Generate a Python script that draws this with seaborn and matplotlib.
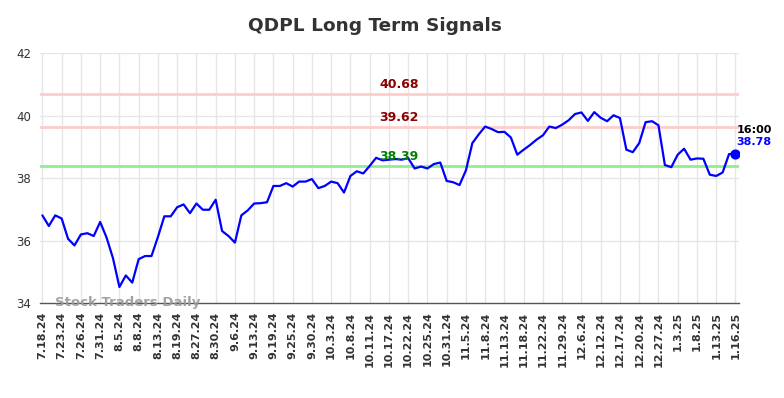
import numpy as np
import pandas as pd
import matplotlib
matplotlib.use("Agg")
import matplotlib.pyplot as plt
import seaborn as sns

# tick labels (one every 3 trading days)
tick_labels = ['7.18.24', '7.23.24', '7.26.24', '7.31.24', '8.5.24', '8.8.24', '8.13.24',
               '8.19.24', '8.27.24', '8.30.24', '9.6.24', '9.13.24', '9.19.24', '9.25.24',
               '9.30.24', '10.3.24', '10.8.24', '10.11.24', '10.17.24', '10.22.24', '10.25.24',
               '10.31.24', '11.5.24', '11.8.24', '11.13.24', '11.18.24', '11.22.24', '11.29.24',
               '12.6.24', '12.12.24', '12.17.24', '12.20.24', '12.27.24', '1.3.25', '1.8.25',
               '1.13.25', '1.16.25']

# closing prices
prices = [36.81, 36.47, 36.81, 36.71, 36.06, 35.85, 36.20, 36.24, 36.15, 36.60,
          36.10, 35.44, 34.52, 34.89, 34.66, 35.41, 35.51, 35.51, 36.12, 36.78,
          36.78, 37.07, 37.16, 36.88, 37.19, 36.99, 36.99, 37.31, 36.31, 36.15,
          35.94, 36.81, 36.97, 37.19, 37.20, 37.23, 37.75, 37.75, 37.84, 37.73,
          37.89, 37.89, 37.97, 37.68, 37.75, 37.89, 37.84, 37.54, 38.07, 38.22,
          38.15, 38.39, 38.65, 38.57, 38.59, 38.61, 38.59, 38.64, 38.31, 38.37,
          38.31, 38.45, 38.50, 37.91, 37.87, 37.78, 38.25, 39.12, 39.40, 39.65,
          39.57, 39.47, 39.48, 39.30, 38.75, 38.91, 39.06, 39.23, 39.37, 39.65,
          39.60, 39.71, 39.85, 40.05, 40.10, 39.83, 40.11, 39.93, 39.82, 40.01,
          39.92, 38.91, 38.83, 39.12, 39.79, 39.82, 39.69, 38.42, 38.35, 38.75,
          38.94, 38.59, 38.63, 38.62, 38.11, 38.07, 38.18, 38.77, 38.78]

# signal levels
resistance_levels = [40.68, 39.62]
support_level = 38.39
last_time = '16:00'

df = pd.DataFrame({'idx': np.arange(len(prices)), 'price': prices})

sns.set_style('white')
fig = plt.figure(figsize=(7.84, 3.98), dpi=100)
ax = fig.add_axes([0.0504, 0.238, 0.8926, 0.6288])

# grid
for i in range(0, len(prices), 3):
    ax.axvline(i, color='#e6e6e6', lw=1, zorder=0)
for yv in [36, 38, 40, 42]:
    ax.axhline(yv, color='#e6e6e6', lw=1, zorder=0)

# signal lines
for lv in resistance_levels:
    ax.axhline(lv, color='#ffcccc', lw=2, zorder=1)
ax.axhline(support_level, color='#90ee90', lw=2, zorder=1)

sns.lineplot(data=df, x='idx', y='price', color='#0000ff', lw=1.6, ax=ax, zorder=3)
ax.scatter([df['idx'].iloc[-1]], [prices[-1]], s=40, color='#0000ff', zorder=4)

mid = 55.6
for lv in resistance_levels:
    ax.text(mid, lv + 0.1, f'{lv:.2f}', color='#8b0000', fontsize=9, fontweight='bold',
            ha='center', va='bottom')
ax.text(mid, support_level + 0.08, f'{support_level:.2f}', color='#008000', fontsize=9,
        fontweight='bold', ha='center', va='bottom')

ax.text(len(prices) - 0.8, prices[-1] + 0.75, last_time, color='black', fontsize=8,
        fontweight='bold', ha='left', va='center')
ax.text(len(prices) - 0.8, prices[-1] + 0.36, f'{prices[-1]:.2f}', color='#0000ff', fontsize=8,
        fontweight='bold', ha='left', va='center')

ax.text(2, 34.03, 'Stock Traders Daily', color='#999999', fontsize=9.5, fontweight='bold',
        ha='left', va='center', alpha=0.9, zorder=5)

ax.set_xlim(-0.45, 108.6)
ax.set_ylim(34, 42)
ax.set_xticks(range(0, len(prices), 3))
ax.set_xticklabels(tick_labels, rotation=90, fontsize=8, fontweight='bold', color='#333333')
ax.set_yticks([34, 36, 38, 40, 42])
ax.set_yticklabels(['34', '36', '38', '40', '42'], fontsize=8.5, color='#333333')
ax.tick_params(axis='both', length=0, pad=6)
ax.set_xlabel('')
ax.set_ylabel('')

for s in ['top', 'right', 'left']:
    ax.spines[s].set_visible(False)
ax.spines['bottom'].set_color('#555555')
ax.spines['bottom'].set_linewidth(1)

fig.text(0.478, 0.935, 'QDPL Long Term Signals', fontsize=13.3, fontweight='bold',
         color='#333333', ha='center', va='center')

fig.savefig('out.png', dpi=100)
